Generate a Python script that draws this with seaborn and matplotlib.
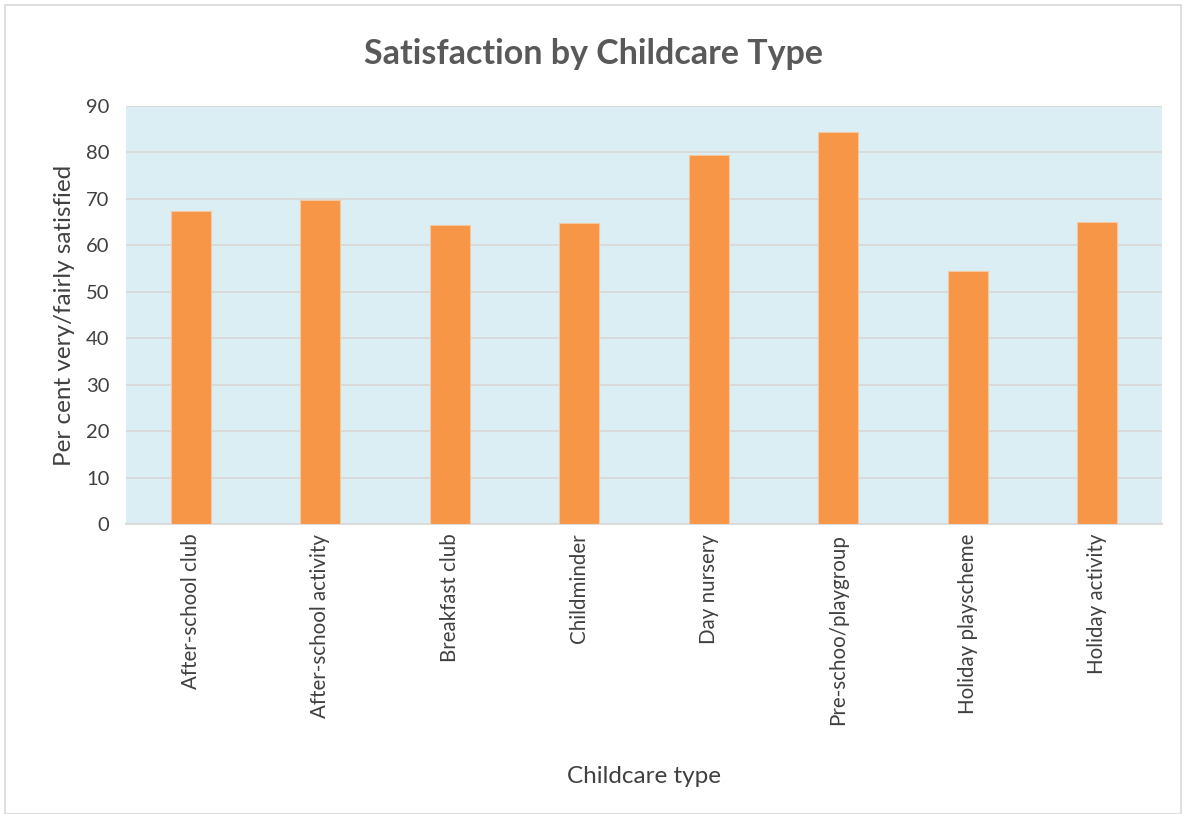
import matplotlib
matplotlib.use("Agg")
import matplotlib.pyplot as plt
import seaborn as sns
import pandas as pd
from matplotlib.patches import Rectangle

categories = ["After-school club", "After-school activity", "Breakfast club", "Childminder",
              "Day nursery", "Pre-schoo/playgroup", "Holiday playscheme", "Holiday activity"]
values = [67.3, 69.8, 64.3, 64.7, 79.4, 84.3, 54.5, 65.0]
yticks = [0, 10, 20, 30, 40, 50, 60, 70, 80, 90]

sns.set_theme(style="white")
plt.rcParams['font.family'] = ['Lato', 'DejaVu Sans']

df = pd.DataFrame({"type": categories, "value": values})

fig = plt.figure(figsize=(11.86, 8.14), dpi=100)
ax = fig.add_axes([0.1062, 0.3563, 0.8736, 0.5135])
ax.set_facecolor("#DAEEF3")
sns.barplot(data=df, x="type", y="value", color="#F79646", saturation=1, width=0.31,
            edgecolor="#F4C8A4", linewidth=0.8, ax=ax, zorder=3)
ax.set_ylim(0, 90)
ax.set_yticks(yticks)
ax.yaxis.grid(True, color="#D9D9D9", linewidth=1.3, zorder=0)
ax.set_axisbelow(True)
for s in ["left", "right", "top"]:
    ax.spines[s].set_visible(False)
ax.spines["bottom"].set_color("#D9D9D9")
ax.spines["bottom"].set_linewidth(1.3)
ax.tick_params(axis="both", length=0, colors="#404040", labelsize=14.5)
ax.tick_params(axis="y", pad=12)
ax.tick_params(axis="x", pad=7)
ax.set_xticks(range(len(categories)))
ax.set_xticklabels(categories, rotation=90, fontsize=14.8, color="#404040")
ax.set_xlabel("Childcare type", fontsize=17.5, color="#404040", labelpad=30)
ax.set_ylabel("Per cent very/fairly satisfied", fontsize=17.5, color="#404040", labelpad=8)
fig.text(0.5, 0.934, "Satisfaction by Childcare Type", ha="center", va="center",
         fontsize=24.5, fontweight="bold", color="#595959")
fig.patches.append(Rectangle((0.004, 0.0), 0.992, 0.994, transform=fig.transFigure,
                             fill=False, edgecolor="#D9D9D9", linewidth=1.2))
fig.savefig("out.png", dpi=100)
